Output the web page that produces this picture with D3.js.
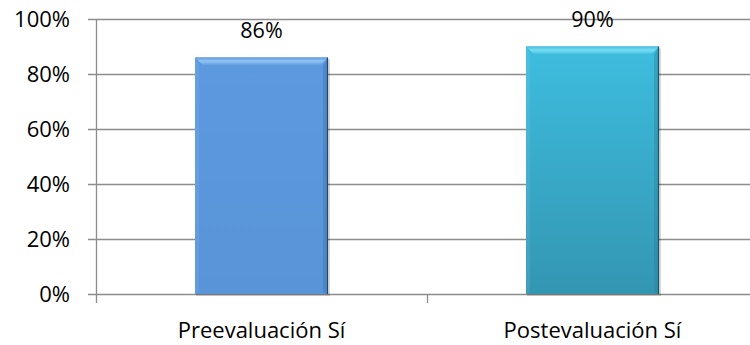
<!DOCTYPE html>
<html>
<head>
<meta charset="utf-8">
<title>Preevaluación / Postevaluación</title>
<script src="https://cdn.jsdelivr.net/npm/d3@7"></script>
<style>
  body { margin: 0; background: #fff; }
  text { font-family: "Open Sans", "Noto Sans", sans-serif; fill: #000; }
</style>
</head>
<body>
<script>

var categories = ["Preevaluación Sí", "Postevaluación Sí"];
var values = [0.86, 0.90];
var tickValues = [0, 0.2, 0.4, 0.6, 0.8, 1];

var width = 750, height = 345;
var margin = {left: 96, top: 19, bottom: 51};

// face / bevel colours per bar
var faces = [
  {top: "#5C99DF", bottom: "#5994D8", light: "#93C6F3", dark: "#3E6EA8", edge: "#24466F"},
  {top: "#3EBDDF", bottom: "#3396B2", light: "#7ADDF2", dark: "#2A7F99", edge: "#1B5568"}
];

var svg = d3.select("body").append("svg")
  .attr("width", width)
  .attr("height", height);

var defs = svg.append("defs");

// plot continues past the right edge, like the original (two equal bands of ~331px)
var x = d3.scaleBand()
  .domain(categories)
  .range([margin.left, margin.left + 662]);

var y = d3.scaleLinear()
  .domain([0, 1])
  .range([height - margin.bottom, margin.top]);

var fmt = d3.format(".0%");

// gridlines + left ticks
svg.append("g")
  .selectAll("line")
  .data(tickValues)
  .enter()
  .append("line")
  .attr("x1", margin.left - 8)
  .attr("x2", width)
  .attr("y1", function(d){ return Math.round(y(d)) + 0.5; })
  .attr("y2", function(d){ return Math.round(y(d)) + 0.5; })
  .attr("stroke", "#8c8c8c")
  .attr("stroke-width", 1.3);

// y axis line
svg.append("line")
  .attr("x1", margin.left + 0.5).attr("x2", margin.left + 0.5)
  .attr("y1", y(1)).attr("y2", y(0) + 9)
  .attr("stroke", "#8c8c8c")
  .attr("stroke-width", 1.3);

// category boundary ticks
svg.append("g")
  .selectAll("line")
  .data(categories.slice(1))
  .enter()
  .append("line")
  .attr("x1", function(d){ return Math.round(x(d)) + 0.5; })
  .attr("x2", function(d){ return Math.round(x(d)) + 0.5; })
  .attr("y1", y(0))
  .attr("y2", y(0) + 9)
  .attr("stroke", "#8c8c8c")
  .attr("stroke-width", 1.3);

// y tick labels
svg.append("g")
  .selectAll("text")
  .data(tickValues)
  .enter()
  .append("text")
  .attr("x", 70)
  .attr("y", function(d){ return y(d); })
  .attr("dy", "0.36em")
  .attr("text-anchor", "end")
  .style("font-size", "22px")
  .text(fmt);

// bars
var barW = 133;
var bars = svg.append("g")
  .selectAll("g")
  .data(values)
  .enter()
  .append("g")
  .attr("transform", function(d, i){
    return "translate(" + (x(categories[i]) + x.bandwidth()/2 - barW/2) + ",0)";
  });

faces.forEach(function(f, i){
  var g = defs.append("linearGradient").attr("id", "face" + i)
    .attr("x1", 0).attr("y1", 0).attr("x2", 0).attr("y2", 1);
  g.append("stop").attr("offset", "0%").attr("stop-color", f.top);
  g.append("stop").attr("offset", "100%").attr("stop-color", f.bottom);
  var t = defs.append("linearGradient").attr("id", "topbev" + i)
    .attr("x1", 0).attr("y1", 0).attr("x2", 0).attr("y2", 1);
  t.append("stop").attr("offset", "0%").attr("stop-color", f.top);
  t.append("stop").attr("offset", "45%").attr("stop-color", f.light);
  t.append("stop").attr("offset", "100%").attr("stop-color", f.top);
});

// soft shadow under bar
bars.append("rect")
  .attr("x", 1)
  .attr("y", function(d){ return y(d) + 2; })
  .attr("width", barW + 1)
  .attr("height", function(d){ return y(0) - y(d); })
  .attr("fill", "#000")
  .attr("opacity", 0.15);

bars.append("rect")
  .attr("x", 0)
  .attr("y", function(d){ return y(d); })
  .attr("width", barW)
  .attr("height", function(d){ return y(0) - y(d); })
  .attr("fill", function(d, i){ return "url(#face" + i + ")"; });

var bev = 8;
// top bevel
bars.append("path")
  .attr("d", function(d){
    var t = y(d);
    return "M0," + t + "L" + barW + "," + t + "L" + (barW - bev) + "," + (t + bev) + "L" + bev + "," + (t + bev) + "Z";
  })
  .attr("fill", function(d, i){ return "url(#topbev" + i + ")"; });

// left bevel, slightly lighter
bars.append("path")
  .attr("d", function(d){
    var t = y(d), b = y(0);
    return "M0," + t + "L" + 4 + "," + (t + bev) + "L" + 4 + "," + (b - 2) + "L0," + b + "Z";
  })
  .attr("fill", "#fff")
  .attr("opacity", 0.07);

// right bevel, darker
bars.append("path")
  .attr("d", function(d){
    var t = y(d), b = y(0);
    return "M" + barW + "," + t + "L" + (barW - 5) + "," + (t + bev) + "L" + (barW - 5) + "," + (b - 2) + "L" + barW + "," + b + "Z";
  })
  .attr("fill", function(d, i){ return faces[i].dark; })
  .attr("opacity", 0.4);

// dark right edge
bars.append("line")
  .attr("x1", barW - 0.5).attr("x2", barW - 0.5)
  .attr("y1", function(d){ return y(d); })
  .attr("y2", y(0))
  .attr("stroke", function(d, i){ return faces[i].edge; })
  .attr("stroke-width", 1.2);

// value labels
bars.append("text")
  .attr("x", barW / 2)
  .attr("y", function(d){ return y(d) - 20; })
  .attr("text-anchor", "middle")
  .style("font-size", "21.5px")
  .text(fmt);

// category labels
svg.append("g")
  .selectAll("text")
  .data(categories)
  .enter()
  .append("text")
  .attr("x", function(d){ return x(d) + x.bandwidth()/2; })
  .attr("y", 338)
  .attr("text-anchor", "middle")
  .style("font-size", "22px")
  .text(function(d){ return d; });

</script>
</body>
</html>
